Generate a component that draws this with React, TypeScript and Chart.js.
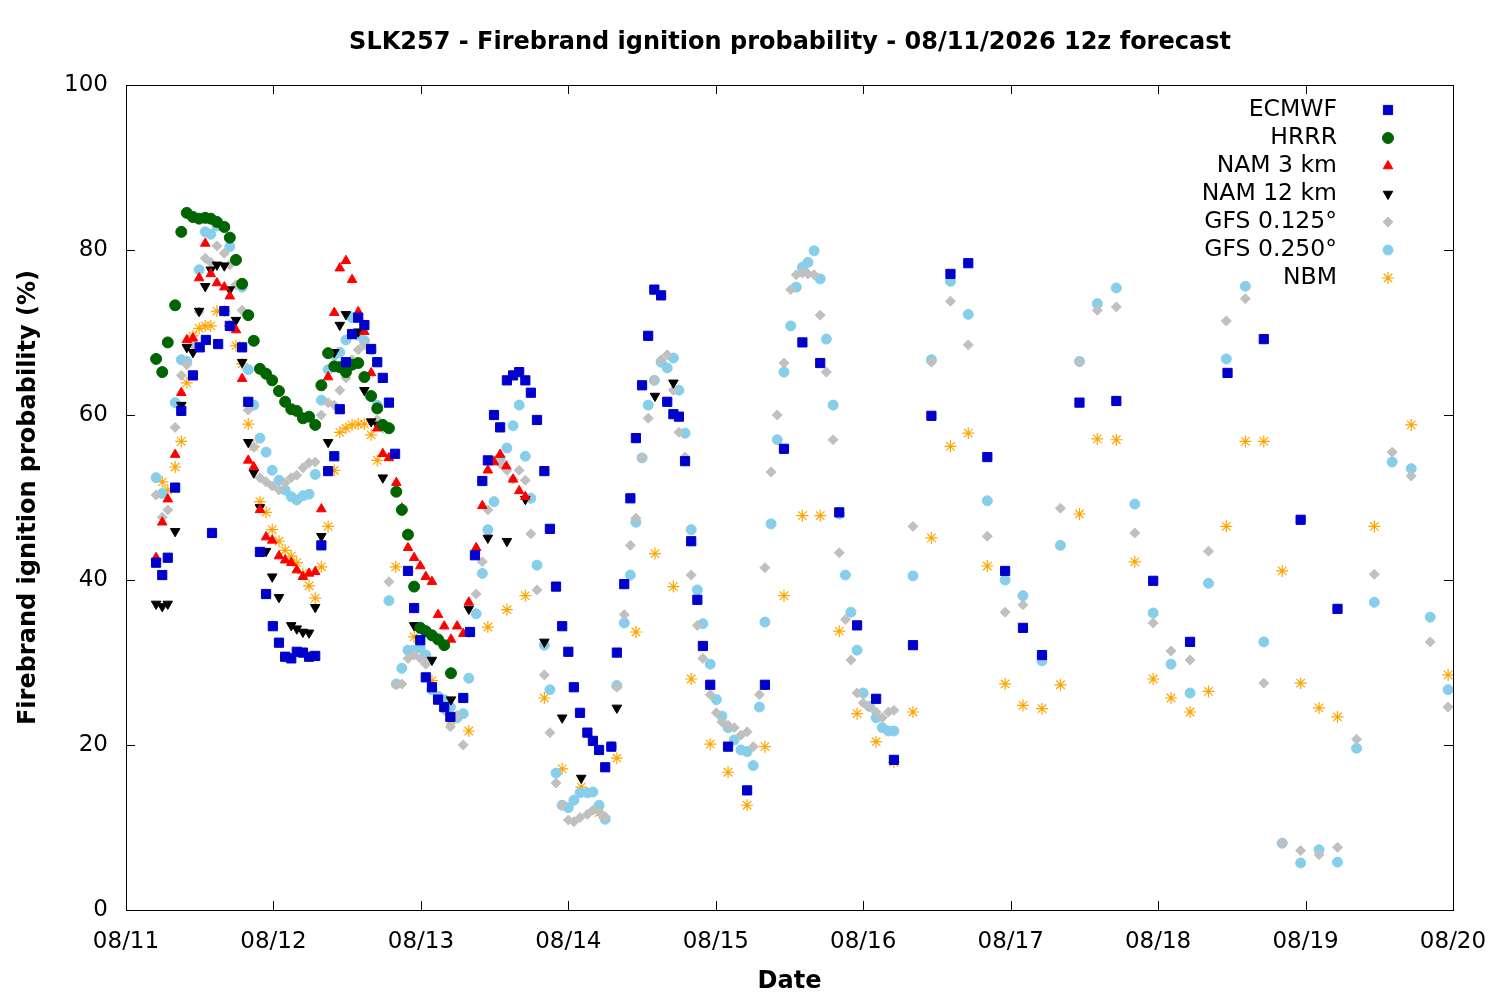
import React, { useEffect, useRef } from "react";
import { Chart, registerables } from "chart.js";
import { drawPoint } from "chart.js/helpers";
Chart.register(...registerables);

const tickLabels = ["08/11", "08/12", "08/13", "08/14", "08/15", "08/16", "08/17", "08/18", "08/19", "08/20"];
const seriesNames = ["ECMWF", "HRRR", "NAM 3 km", "NAM 12 km", "GFS 0.125°", "GFS 0.250°", "NBM"];

// [forecast hour since 08/11 00z, probability %]
const ecmwf = [[4.9,42.1],[5.9,40.6],[6.8,42.7],[8,51.2],[9,60.5],[10.9,64.8],[12,68.2],[13,69.1],[14,45.7],[15,68.6],[16,72.6],[16.9,70.8],[18.9,68.2],[19.9,61.6],[21.8,43.4],[22.8,38.3],[23.9,34.4],[24.9,32.4],[25.9,30.7],[26.9,30.5],[27.8,31.3],[28.8,31.2],[29.8,30.7],[30.8,30.8],[31.8,44.2],[32.9,53.2],[33.9,55],[34.8,60.7],[35.8,66.4],[36.8,69.8],[37.8,71.8],[38.8,70.9],[39.9,68],[40.9,66.4],[41.8,64.5],[42.8,61.5],[43.8,55.3],[45.9,41.1],[46.9,36.6],[47.9,32.7],[48.8,28.2],[49.8,27],[50.8,25.5],[51.8,24.6],[52.8,23.4],[54.9,25.7],[56,33.7],[56.8,43],[58,52],[58.9,54.5],[59.9,60],[60.9,58.5],[62,64.2],[63,64.8],[64,65.2],[65,64.2],[65.9,62.7],[66.9,59.4],[68.1,53.2],[69,46.2],[70,39.2],[71,34.4],[72,31.3],[72.9,27],[73.9,23.9],[75.1,21.5],[76,20.5],[77,19.4],[78,17.3],[79,19.8],[79.9,31.2],[81.1,39.5],[82.1,49.9],[83,57.2],[84,63.6],[85,69.6],[86,75.2],[87.1,74.5],[88.1,61.6],[89.1,60.1],[90,59.8],[91,54.4],[92,44.7],[93,37.6],[93.9,32],[95.1,27.3],[98,19.8],[101.1,14.5],[104,27.3],[107.1,55.9],[110.1,68.8],[113,66.3],[116.1,48.2],[119,34.5],[122.1,25.6],[125,18.2],[128.1,32.1],[131.1,59.9],[134.2,77.1],[137.1,78.4],[140.2,54.9],[143.1,41.1],[146,34.2],[149.1,30.9],[155.2,61.5],[161.2,61.7],[167.2,39.9],[173.2,32.5],[179.3,65.1],[185.2,69.2],[191.2,47.3],[197.2,36.5]];
const hrrr = [[4.9,66.8],[5.9,65.2],[6.8,68.8],[8,73.3],[9,82.2],[9.9,84.5],[10.9,84],[11.9,83.8],[12.9,83.9],[13.8,83.8],[14.8,83.4],[16,82.8],[16.9,81.5],[17.9,78.8],[18.9,75.9],[19.9,72.1],[20.8,69],[21.8,65.6],[22.8,65],[23.8,64.2],[24.9,62.9],[25.9,61.6],[26.9,60.7],[27.8,60.5],[28.8,59.6],[29.8,59.8],[30.8,58.8],[31.8,63.6],[32.9,67.5],[33.9,65.9],[34.8,65.8],[35.8,65.2],[36.8,66.1],[37.8,66.3],[38.8,64.6],[39.9,62.3],[40.9,60.8],[41.8,58.8],[42.8,58.4],[44,50.7],[44.9,48.5],[45.9,45.5],[46.9,39.2],[47.9,34.2],[48.8,33.8],[49.8,33.3],[50.8,32.8],[51.8,32.1],[52.9,28.7]];
const nam3 = [[4.9,42.7],[5.9,47],[6.8,49.8],[8,55.2],[9,62.7],[9.9,69.1],[10.9,69.3],[11.9,76.6],[12.9,80.8],[13.8,77.1],[14.8,76],[16,75.5],[16.9,74.4],[17.9,70.3],[18.9,64.4],[19.9,54.5],[20.8,53.7],[21.8,48.5],[22.8,45.2],[23.8,44.8],[24.9,42.9],[25.9,42.4],[26.9,42.1],[27.8,41.2],[28.8,40.4],[29.8,40.8],[30.8,41],[31.8,48.6],[32.9,64.6],[33.9,72.4],[34.8,77.8],[35.8,78.7],[36.8,76.4],[37.8,72.5],[38.8,70.1],[39.9,65.1],[40.9,58.4],[41.8,55.3],[42.8,54.8],[44,51.8],[44.9,48.7],[45.9,43.9],[46.9,42.7],[47.9,41.7],[48.8,40.4],[49.8,39.8],[50.8,35.8],[51.8,34.4],[52.9,32.8],[53.9,34.4],[54.9,33.5],[55.8,37.3],[57,43.9],[58,49],[58.9,53.3],[59.9,54.3],[60.9,55.2],[61.9,53.8],[63,52.2],[64,50.8],[65,50.1]];
const nam12 = [[4.9,37.1],[5.9,36.8],[6.8,37.1],[8,45.9],[9,61.2],[9.9,68.2],[10.9,67.6],[11.9,72.6],[12.9,75.6],[13.8,77.6],[14.8,78.2],[16,78.1],[16.9,75.2],[17.9,71.5],[18.9,66.4],[19.9,56.7],[20.8,53],[21.8,48.8],[22.8,43.5],[23.8,40.4],[24.9,37.9],[26.9,34.5],[27.8,34.1],[28.8,33.7],[29.8,33.6],[30.8,36.7],[31.8,45.3],[32.9,56.7],[33.9,67.6],[34.8,70.9],[35.8,72.2],[36.8,69.9],[37.8,70.1],[38.8,63],[39.9,59.2],[40.9,58.8],[41.8,52.4],[46.9,34.5],[49.8,30.3],[52.9,25.5],[55.8,36.5],[58.9,45.1],[62,44.7],[65,49.8],[68.1,32.5],[71,23.3],[74.1,16],[79.9,24.5],[86.1,62.3],[89.1,63.9]];
const gfs0125 = [[4.9,50.3],[5.9,47.6],[6.8,48.5],[8,58.5],[9,64.8],[9.9,66.1],[10.9,68.5],[11.9,72.5],[12.9,79],[13.8,78.5],[14.8,80.5],[16,79.6],[16.9,78.2],[17.9,75.8],[18.9,72.7],[19.9,60.6],[20.8,56.1],[21.8,52.4],[22.8,51.9],[23.8,51.4],[24.9,50.9],[25.9,51.8],[26.9,52.4],[27.8,52.7],[28.8,53.6],[29.8,54.2],[30.8,54.3],[31.8,60],[32.9,61.5],[33.9,61.2],[34.8,63],[35.8,64.5],[36.8,66.7],[37.8,67.9],[38.8,68.5],[39.9,62.4],[40.9,59.4],[41.8,58.4],[42.8,39.8],[44,27.3],[44.9,27.4],[45.9,30.5],[46.9,30.9],[47.9,30.5],[48.8,29.8],[49.8,26.9],[50.8,25.5],[51.8,24.2],[52.8,22.2],[53.9,23.6],[54.9,20],[55.8,33.6],[57,38.3],[58,42.2],[58.9,48.5],[59.9,54.5],[60.9,54.1],[62,53.3],[63,52.2],[64,53.3],[65,52.1],[65.9,45.6],[66.9,38.8],[68.1,28.5],[69,21.5],[70,15.4],[71,12.7],[72,10.9],[72.9,10.7],[73.9,11.2],[75.1,11.6],[76,12.1],[77,11.9],[78,11.3],[79,19.8],[79.9,27],[81.1,35.8],[82.1,44.2],[83,47.5],[84,54.8],[85,59.6],[86,64.2],[87.1,66.7],[88.1,67.3],[89.1,63],[90,57.9],[91,54.9],[92,40.6],[93,34.5],[93.9,30.5],[95.1,26.1],[96.1,23.9],[97,22.8],[98,22.4],[99,22.1],[100.1,21.2],[101.1,21.6],[102.1,19.8],[103.1,26.1],[104,41.5],[105,53.1],[106,60],[107.1,66.3],[108.2,75.2],[109.1,77],[110.1,77.2],[111,77.1],[112,77],[113,72.1],[114,65.2],[115.1,57],[116.1,43.3],[117.1,35.2],[118,30.3],[119,26.3],[120,25.1],[121,24.6],[122.1,24],[123.1,23.3],[124.1,24],[125,24.2],[128.1,46.5],[131.1,66.4],[134.2,73.8],[137.1,68.5],[140.2,45.3],[143.1,36.1],[146,37],[149.1,30.7],[152.1,48.7],[155.2,66.4],[158.1,72.7],[161.2,73.1],[164.2,45.7],[167.2,34.8],[170.1,31.4],[173.2,30.3],[176.2,43.5],[179.1,71.4],[182.2,74.1],[185.2,27.5],[188.2,8.1],[191.2,7.2],[194.2,6.7],[197.2,7.6],[200.3,20.7],[203.2,40.7],[206.1,55.5],[209.2,52.6],[212.3,32.5],[215.2,24.6]];
const gfs0250 = [[4.9,52.4],[5.9,50.5],[8,61.5],[9,66.7],[9.9,66.5],[11.9,77.6],[12.9,82.2],[13.8,81.9],[14.8,82.9],[16,82.7],[16.9,80.4],[17.9,78.8],[18.9,75.5],[19.9,65.5],[20.8,61.2],[21.8,57.2],[22.8,55.5],[23.8,53.3],[24.9,52.1],[25.9,50.9],[26.9,50.1],[27.8,49.7],[28.8,50.2],[29.8,50.4],[30.8,52.8],[31.8,61.8],[32.9,65.5],[33.9,67.3],[34.8,67.6],[35.8,69.1],[36.8,71.8],[37.8,69.7],[38.8,69],[39.9,67.9],[40.9,61.2],[42.8,37.5],[44,27.4],[44.9,29.3],[45.9,31.5],[46.9,31.5],[47.9,31.8],[48.8,30.9],[49.8,26.7],[50.8,25.9],[51.8,25.5],[52.8,24.6],[53.9,23.3],[54.9,23.8],[55.8,28.1],[57,35.9],[58,40.8],[58.9,46.1],[59.9,49.5],[60.9,54.8],[62,56],[63,58.7],[64,61.2],[65,55],[65.9,49.9],[66.9,41.8],[68.1,32.1],[69,26.7],[70,16.6],[71,12.7],[72,12.4],[72.9,13.3],[73.9,14.2],[75.1,14.2],[76,14.3],[77,12.7],[78,11],[79,19.8],[79.9,27.2],[81.1,34.8],[82.1,40.6],[83,47],[84,54.8],[85,61.2],[86,64.2],[87.1,66.4],[88.1,65.7],[89.1,66.9],[90,63],[91,57.8],[92,46.1],[93,38.8],[93.9,34.7],[95.1,29.8],[96.1,25.5],[97,23.5],[98,22.1],[99,20.6],[100.1,19.4],[101.1,19.2],[102.1,17.5],[103.1,24.6],[104,34.9],[105,46.8],[106,57],[107.1,65.2],[108.2,70.8],[109.1,75.5],[110.1,77.9],[111,78.5],[112,79.9],[113,76.5],[114,69.2],[115.1,61.2],[116.1,48],[117.1,40.6],[118,36.1],[119,31.5],[120,26.3],[121,24.7],[122.1,23.3],[123.1,22.1],[124.1,21.7],[125,21.7],[128.1,40.5],[131.1,66.7],[134.2,76.2],[137.1,72.2],[140.2,49.6],[143.1,40],[146,38.1],[149.1,30.2],[152.1,44.2],[155.2,66.5],[158.1,73.5],[161.2,75.4],[164.2,49.2],[167.2,36],[170.1,29.8],[173.2,26.3],[176.2,39.6],[179.1,66.8],[182.2,75.6],[185.2,32.5],[188.2,8.1],[191.2,5.7],[194.2,7.3],[197.2,5.8],[200.3,19.6],[203.2,37.3],[206.1,54.3],[209.2,53.5],[212.3,35.5],[215.2,26.7]];
const nbm = [[5.9,51.9],[6.8,50.9],[8,53.7],[9,56.8],[9.9,63.9],[10.9,69.6],[11.9,70.5],[12.9,70.8],[13.8,70.8],[14.8,72.6],[16,72.6],[16.9,70.8],[17.9,68.4],[18.9,66.2],[19.9,58.9],[20.8,56.2],[21.8,49.5],[22.8,48.2],[23.8,46.1],[24.9,44.7],[25.9,43.6],[26.9,42.9],[27.8,42.1],[28.8,40.8],[29.8,39.3],[30.8,37.8],[31.8,41.6],[32.9,46.5],[33.9,53.3],[34.8,57.9],[35.8,58.4],[36.8,58.8],[37.8,58.9],[38.8,58.9],[39.9,57.6],[40.9,54.5],[43.9,41.6],[46.9,33.1],[49.8,27.8],[52.9,23],[55.8,21.7],[58.9,34.3],[62,36.4],[65,38.1],[68.1,25.7],[71,17.1],[74.1,14.9],[77,11.8],[79.9,18.4],[83,33.7],[86.1,43.2],[89.1,39.2],[92,28],[95.1,20.1],[98,16.7],[101.1,12.7],[104,19.8],[107.1,38.1],[110.1,47.8],[113,47.8],[116.1,33.8],[119,23.8],[122.1,20.4],[125,17.9],[128.1,24],[131.1,45.1],[134.2,56.2],[137.1,57.8],[140.2,41.7],[143.1,27.4],[146,24.8],[149.1,24.4],[152.1,27.3],[155.2,48],[158.1,57.1],[161.2,57],[164.2,42.2],[167.2,28],[170.1,25.7],[173.2,24],[176.2,26.5],[179.1,46.5],[182.2,56.8],[185.2,56.8],[188.2,41.1],[191.2,27.5],[194.2,24.5],[197.2,23.4],[203.2,46.5],[209.2,58.8],[215.2,28.5]];

const FONT = "'DejaVu Sans', sans-serif";

const styles = [
  { data: ecmwf, color: "#0000cc", pointStyle: "rect", radius: 6.5, rotation: 0 },
  { data: hrrr, color: "#006400", pointStyle: "circle", radius: 5.5, rotation: 0 },
  { data: nam3, color: "#ff0000", pointStyle: "triangle", radius: 5.5, rotation: 0 },
  { data: nam12, color: "#000000", pointStyle: "triangle", radius: 5.5, rotation: 180 },
  { data: gfs0125, color: "#c0c0c0", pointStyle: "rectRot", radius: 5, rotation: 0 },
  { data: gfs0250, color: "#87ceeb", pointStyle: "circle", radius: 5, rotation: 0 },
  { data: nbm, color: "#ffa500", pointStyle: "star", radius: 6, rotation: 0 },
];

export default function App() {
  const ref = useRef<HTMLCanvasElement>(null);
  useEffect(() => {
    document.body.style.margin = "0";
    const decor = {
      id: "decor",
      afterDraw(chart: any) {
        const ctx = chart.ctx;
        const a = chart.chartArea;
        const xs = chart.scales.x, ys = chart.scales.y;
        ctx.save();
        ctx.strokeStyle = "#000";
        ctx.lineWidth = 1;
        ctx.strokeRect(a.left + 0.5, a.top + 0.5, a.right - a.left, a.bottom - a.top);
        ctx.beginPath();
        for (let v = 0; v <= 100; v += 20) {
          const y = Math.round(ys.getPixelForValue(v)) + 0.5;
          ctx.moveTo(a.left, y); ctx.lineTo(a.left + 9, y);
          ctx.moveTo(a.right, y); ctx.lineTo(a.right - 9, y);
        }
        for (let i = 0; i < tickLabels.length; i++) {
          const x = Math.round(xs.getPixelForValue(i * 24)) + 0.5;
          ctx.moveTo(x, a.bottom); ctx.lineTo(x, a.bottom - 9);
          ctx.moveTo(x, a.top); ctx.lineTo(x, a.top + 9);
        }
        ctx.stroke();
        ctx.fillStyle = "#000";
        ctx.font = `bold 24px ${FONT}`;
        ctx.textAlign = "center";
        ctx.textBaseline = "middle";
        ctx.fillText("SLK257 - Firebrand ignition probability - 08/11/2026 12z forecast", 790, 43);
        ctx.font = `23.5px ${FONT}`;
        ctx.textAlign = "right";
        styles.forEach((s, i) => {
          const y = 110 + i * 28;
          ctx.fillStyle = "#000";
          ctx.fillText(seriesNames[i], 1337, y);
          ctx.fillStyle = s.color;
          ctx.strokeStyle = s.color;
          ctx.lineWidth = s.pointStyle === "star" ? 1.2 : 1;
          drawPoint(ctx, { pointStyle: s.pointStyle as any, radius: s.radius, rotation: s.rotation, borderWidth: ctx.lineWidth }, 1388, y);
        });
        ctx.restore();
      },
    };
    const chart = new Chart(ref.current!, {
      type: "scatter",
      data: {
        datasets: styles.map((s, i) => ({
          label: seriesNames[i],
          data: s.data.map(([x, y]) => ({ x, y })),
          backgroundColor: s.color,
          borderColor: s.color,
          borderWidth: s.pointStyle === "star" ? 1.2 : 1,
          pointStyle: s.pointStyle as any,
          pointRadius: s.radius,
          rotation: s.rotation,
        })),
      },
      options: {
        animation: false,
        responsive: false,
        layout: { padding: { left: 10, right: 47, top: 85, bottom: 0 } },
        plugins: { legend: { display: false }, title: { display: false }, tooltip: { enabled: false } },
        scales: {
          x: {
            type: "linear", min: 0, max: 216,
            afterBuildTicks: (s: any) => { s.ticks = tickLabels.map((_, i) => ({ value: i * 24 })); },
            afterFit: (s: any) => { s.height = 90; },
            grid: { display: false },
            border: { display: false },
            ticks: { font: { family: FONT, size: 23 }, color: "#000", maxRotation: 0, padding: 10, callback: (v: any) => tickLabels[Math.round(v / 24)] },
            title: { display: true, text: "Date", font: { family: FONT, size: 24, weight: "bold" }, color: "#000", padding: { top: 2 } },
          },
          y: {
            min: 0, max: 100,
            ticks: { stepSize: 20, font: { family: FONT, size: 23 }, color: "#000", padding: 10 },
            afterFit: (s: any) => { s.width = 116; },
            grid: { display: false },
            border: { display: false },
            title: { display: true, text: "Firebrand ignition probability (%)", font: { family: FONT, size: 24, weight: "bold" }, color: "#000", padding: { bottom: 4 } },
          },
        },
      },
      plugins: [decor],
    });
    return () => chart.destroy();
  }, []);
  return <canvas ref={ref} width={1500} height={1000} style={{ display: "block" }} />;
}
